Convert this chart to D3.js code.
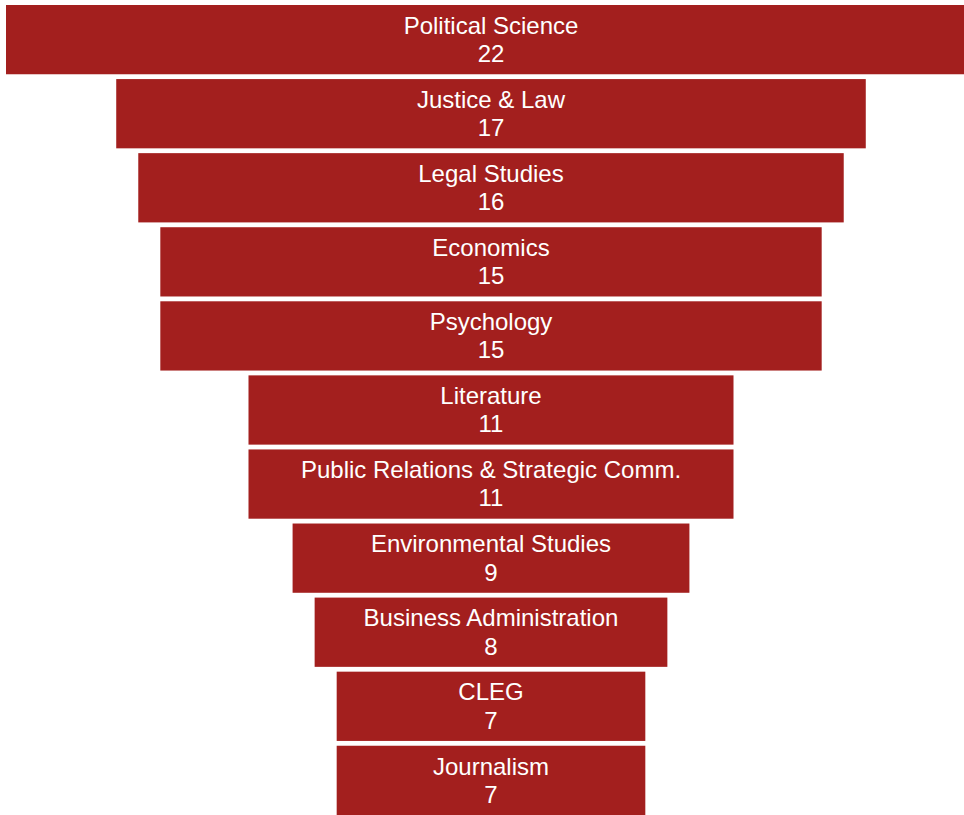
<!DOCTYPE html>
<html>
<head>
<meta charset="utf-8">
<script src="https://cdn.jsdelivr.net/npm/d3@7"></script>
<style>
html,body{margin:0;padding:0;background:#fff;overflow:hidden;}
svg{display:block;}
</style>
</head>
<body>
<svg id="chart" width="964" height="815"></svg>
<script>
const categories = ["Political Science","Justice & Law","Legal Studies","Economics","Psychology","Literature","Public Relations & Strategic Comm.","Environmental Studies","Business Administration","CLEG","Journalism"];
const values = [22,17,16,15,15,11,11,9,8,7,7];

const W = 964, H = 815;
const cx = 491;
const svg = d3.select("#chart");

const y = d3.scaleBand().domain(categories).range([5, 815]).paddingInner(0.065).paddingOuter(0);
const w = d3.scaleLinear().domain([0, 22]).range([0, 970]);

const data = categories.map((c,i)=>({c, v: values[i]}));

const g = svg.selectAll("g.bar").data(data).enter().append("g").attr("class","bar");
g.append("rect")
  .attr("x", d => cx - w(d.v)/2)
  .attr("y", d => y(d.c))
  .attr("width", d => w(d.v))
  .attr("height", y.bandwidth())
  .attr("fill", "#A31F1E");
g.append("text")
  .attr("x", cx)
  .attr("y", d => y(d.c) + 28.8)
  .attr("text-anchor","middle")
  .attr("fill","#fff")
  .style("font-family","'Liberation Sans', Arial, sans-serif")
  .style("font-size","24px")
  .text(d => d.c);
g.append("text")
  .attr("x", cx)
  .attr("y", d => y(d.c) + 57)
  .attr("text-anchor","middle")
  .attr("fill","#fff")
  .style("font-family","'Liberation Sans', Arial, sans-serif")
  .style("font-size","24px")
  .text(d => d.v);
</script>
</body>
</html>
